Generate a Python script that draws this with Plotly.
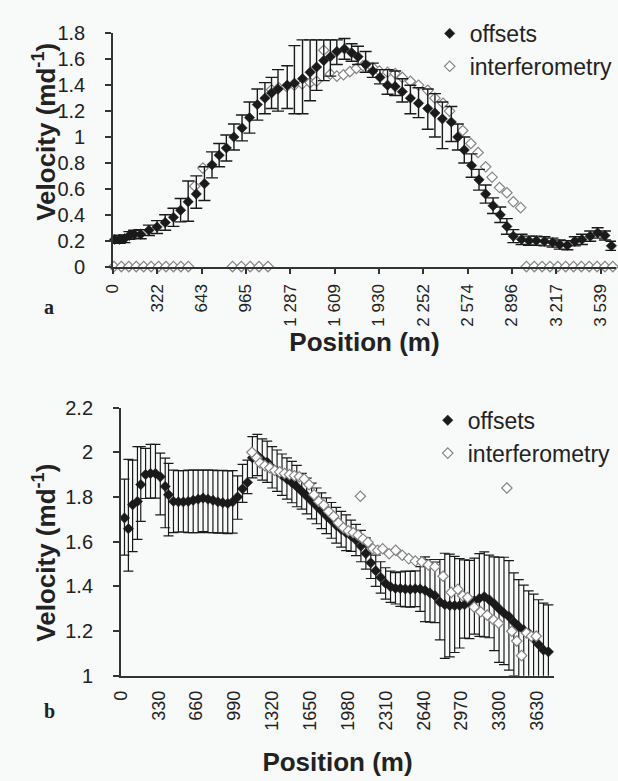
import plotly.graph_objects as go

# ---------------- Panel a data ----------------
a_off_pos = [12, 48, 83, 119, 154, 201, 261, 320, 379, 439, 491, 546, 605, 664, 719, 771, 823, 878, 937, 991,
             1048, 1103, 1151, 1198, 1265, 1317, 1376, 1431, 1478, 1530, 1578, 1625, 1680, 1732, 1779, 1834, 1886,
             1938, 1993, 2048, 2100, 2159, 2218, 2285, 2337, 2391, 2456, 2503, 2550, 2603, 2657, 2705, 2759, 2811,
             2859, 2906, 2966, 3020, 3073, 3132, 3191, 3243, 3298, 3352, 3404, 3464, 3518, 3571, 3618]
a_off_val = [0.21, 0.21, 0.215, 0.24, 0.25, 0.25, 0.28, 0.305, 0.34, 0.38, 0.435, 0.50, 0.56, 0.64, 0.785, 0.86,
             0.915, 1.0, 1.07, 1.15, 1.25, 1.30, 1.34, 1.37, 1.40, 1.415, 1.45, 1.50, 1.54, 1.59, 1.62, 1.66, 1.68,
             1.65, 1.62, 1.56, 1.51, 1.46, 1.40, 1.39, 1.35, 1.30, 1.26, 1.22, 1.185, 1.14, 1.115, 1.0, 0.90, 0.78,
             0.67, 0.56, 0.47, 0.40, 0.31, 0.235, 0.21, 0.20, 0.20, 0.195, 0.185, 0.17, 0.165, 0.195, 0.21, 0.235,
             0.26, 0.24, 0.16]
a_off_err_plus = [0.03, 0.03, 0.03, 0.03, 0.03, 0.035, 0.04, 0.05, 0.06, 0.07, 0.09, 0.16, 0.14, 0.13, 0.10, 0.09,
                  0.10, 0.10, 0.10, 0.12, 0.12, 0.12, 0.12, 0.15, 0.15, 0.29, 0.30, 0.25, 0.21, 0.16, 0.13, 0.09,
                  0.08, 0.07, 0.08, 0.10, 0.06, 0.06, 0.12, 0.12, 0.10, 0.10, 0.12, 0.15, 0.15, 0.13, 0.12, 0.10,
                  0.10, 0.09, 0.08, 0.07, 0.06, 0.06, 0.06, 0.05, 0.04, 0.035, 0.035, 0.035, 0.035, 0.035, 0.035,
                  0.035, 0.04, 0.04, 0.04, 0.035, 0.035]
a_off_err_minus = [0.03, 0.03, 0.03, 0.03, 0.03, 0.035, 0.04, 0.05, 0.06, 0.07, 0.09, 0.15, 0.11, 0.13, 0.10, 0.09,
                   0.10, 0.10, 0.10, 0.12, 0.12, 0.12, 0.12, 0.17, 0.18, 0.235, 0.27, 0.22, 0.18, 0.155, 0.15, 0.10,
                   0.08, 0.065, 0.06, 0.06, 0.05, 0.05, 0.07, 0.07, 0.08, 0.12, 0.11, 0.16, 0.185, 0.23, 0.15, 0.10,
                   0.10, 0.09, 0.08, 0.07, 0.06, 0.06, 0.06, 0.05, 0.04, 0.035, 0.035, 0.035, 0.035, 0.035, 0.035,
                   0.035, 0.04, 0.04, 0.04, 0.035, 0.035]

a_int_pos = [7, 61, 115, 169, 223, 277, 331, 385, 439, 493, 547, 593, 653, 868, 932, 996, 1060, 1125,
             1151, 1203, 1260, 1317, 1374, 1431, 1478, 1530, 1578, 1625, 1673, 1720, 1767, 1815, 1851, 1886,
             1934, 1993, 2048, 2100, 2159, 2218, 2285, 2337, 2396, 2443, 2539, 2598, 2650, 2705, 2752, 2806,
             2859, 2906, 2959, 3001, 3058, 3115, 3172, 3229, 3286, 3343, 3400, 3457, 3514, 3571, 3628]
a_int_val = [0, 0, 0, 0, 0, 0, 0, 0, 0, 0, 0, 0.62, 0.76, 0, 0, 0, 0, 0,
             1.365, 1.38, 1.39, 1.40, 1.41, 1.42, 1.43, 1.67, 1.485, 1.47, 1.48, 1.505, 1.53, 1.55, 1.545, 1.535,
             1.51, 1.50, 1.49, 1.46, 1.43, 1.40, 1.36, 1.30, 1.26, 1.20, 1.05, 0.95, 0.88, 0.77, 0.69, 0.61,
             0.57, 0.50, 0.455, 0, 0, 0, 0, 0, 0, 0, 0, 0, 0, 0, 0]

a_tick_vals = [0, 322, 643, 965, 1287, 1609, 1930, 2252, 2574, 2896, 3217, 3539]
a_tick_text = ["0", "322", "643", "965", "1 287", "1 609", "1 930", "2 252", "2 574", "2 896", "3 217", "3 539"]

# ---------------- Panel b data ----------------
b_off_pos = [32, 66, 103, 145, 174, 216, 259, 302, 344, 387, 416, 459,
             502, 545, 588, 631, 674, 717, 760, 803, 846, 889, 932, 975, 1018, 1061, 1104,
             1147, 1190, 1233, 1276, 1319, 1362, 1405, 1448, 1491, 1534,
             1577, 1620, 1663, 1706, 1749, 1792, 1835, 1878, 1921, 1964,
             2007, 2050, 2093, 2136, 2179, 2222, 2265, 2308, 2351, 2394,
             2437, 2480, 2523, 2566, 2609, 2652, 2695, 2738, 2781, 2824,
             2867, 2910, 2953, 2996, 3039, 3082, 3125, 3168, 3211, 3254,
             3297, 3340, 3383, 3426, 3469, 3512, 3555, 3598, 3641, 3684, 3727]
b_off_val = [1.706, 1.658, 1.765, 1.78, 1.855, 1.90, 1.905, 1.905, 1.89, 1.847, 1.81, 1.78,
             1.778, 1.778, 1.78, 1.785, 1.79, 1.795, 1.79, 1.785, 1.778, 1.774, 1.771, 1.778, 1.80, 1.836, 1.865,
             1.975, 1.985, 1.965, 1.955, 1.93, 1.915, 1.897, 1.88, 1.864, 1.846,
             1.825, 1.804, 1.782, 1.76, 1.738, 1.716, 1.695, 1.673, 1.655, 1.64,
             1.626, 1.607, 1.58, 1.547, 1.505, 1.47, 1.44, 1.413, 1.398, 1.391,
             1.39, 1.388, 1.387, 1.389, 1.388, 1.382, 1.37, 1.358, 1.33, 1.318,
             1.314, 1.314, 1.314, 1.318, 1.326, 1.336, 1.346, 1.354, 1.34, 1.322,
             1.30, 1.28, 1.265, 1.24, 1.22, 1.205, 1.19, 1.165, 1.14, 1.115, 1.107]
b_off_err_plus = [0.174, 0.31, 0.20, 0.245, 0.17, 0.117, 0.13, 0.13, 0.106, 0.127, 0.14, 0.14,
                  0.14, 0.14, 0.14, 0.135, 0.13, 0.125, 0.13, 0.135, 0.14, 0.145, 0.145, 0.14, 0.094, 0.11, 0.10,
                  0.095, 0.095, 0.095, 0.095, 0.095, 0.095, 0.095, 0.095, 0.095, 0.095,
                  0.08, 0.08, 0.08, 0.08, 0.08, 0.08, 0.08, 0.08, 0.08, 0.08,
                  0.07, 0.07, 0.07, 0.07, 0.07, 0.07, 0.07, 0.07, 0.07, 0.07,
                  0.075, 0.08, 0.08, 0.08, 0.10, 0.15, 0.15, 0.15, 0.19, 0.23,
                  0.23, 0.22, 0.21, 0.20, 0.19, 0.19, 0.20, 0.20, 0.20, 0.21,
                  0.23, 0.25, 0.25, 0.22, 0.21, 0.20, 0.19, 0.20, 0.20, 0.21, 0.21]
b_off_err_minus = [0.166, 0.19, 0.21, 0.17, 0.164, 0.107, 0.11, 0.11, 0.17, 0.185, 0.184, 0.14,
                   0.135, 0.135, 0.14, 0.145, 0.15, 0.15, 0.15, 0.145, 0.14, 0.135, 0.135, 0.14, 0.10, 0.06, 0.05,
                   0.09, 0.09, 0.09, 0.09, 0.09, 0.09, 0.09, 0.09, 0.09, 0.09,
                   0.08, 0.08, 0.08, 0.08, 0.08, 0.08, 0.08, 0.08, 0.08, 0.08,
                   0.07, 0.07, 0.07, 0.07, 0.07, 0.07, 0.07, 0.07, 0.07, 0.07,
                   0.08, 0.08, 0.08, 0.08, 0.10, 0.14, 0.13, 0.12, 0.17, 0.24,
                   0.23, 0.21, 0.19, 0.15, 0.16, 0.15, 0.17, 0.18, 0.17, 0.21,
                   0.24, 0.23, 0.24, 0.24, 0.23, 0.22, 0.22, 0.22, 0.22, 0.22, 0.22]

b_int_pos = [1143, 1185, 1214, 1256, 1299, 1342, 1385, 1427, 1470, 1513, 1556, 1598, 1641, 1684, 1726, 1769,
             1812, 1855, 1897, 1940, 1983, 2026, 2068, 2088, 2111, 2154, 2197, 2239, 2282, 2339, 2396, 2453,
             2510, 2567, 2624, 2681, 2738, 2809, 2880, 2938, 2980, 3023, 3080, 3137, 3194, 3250, 3293, 3365,
             3408, 3451, 3493, 3536, 3579, 3621]
b_int_val = [2.0, 1.975, 1.952, 1.94, 1.93, 1.918, 1.912, 1.905, 1.90, 1.895, 1.89, 1.88, 1.855, 1.81, 1.78, 1.764,
             1.735, 1.713, 1.684, 1.662, 1.648, 1.64, 1.629, 1.803, 1.612, 1.597, 1.568, 1.561, 1.568, 1.546, 1.561,
             1.539, 1.524, 1.513, 1.51, 1.496, 1.488, 1.445, 1.373, 1.387, 1.358, 1.35, 1.307, 1.286, 1.271, 1.249,
             1.235, 1.84, 1.199, 1.155, 1.09, 1.191, 1.177, 1.177]

b_tick_vals = [0, 330, 660, 990, 1320, 1650, 1980, 2310, 2640, 2970, 3300, 3630]
b_tick_text = [str(v) for v in b_tick_vals]
b_mark_vals = [0, 247.5, 495, 742.5, 990, 1237.5, 1485, 1732.5, 1980, 2227.5, 2475, 2722.5, 2970, 3217.5,
               3465, 3712.5]

# ---------------- styling ----------------
W, H = 618, 781
BG = "#f8f9f9"
AX = "#333333"
FONT = "Liberation Sans, Arial, sans-serif"
OFF_COLOR = "#1a1a1a"
INT_LINE = "#858585"


def px_x(p):
    return p / W


def px_y(p):
    return 1 - p / H


fig = go.Figure()

# Panel a
fig.add_trace(go.Scatter(
    x=a_int_pos, y=a_int_val, mode="markers", name="interferometry", legend="legend", legendrank=2,
    marker=dict(symbol="diamond", size=8, color="#ffffff", line=dict(color=INT_LINE, width=1.2)),
    cliponaxis=False, xaxis="x", yaxis="y"))
fig.add_trace(go.Scatter(
    x=a_off_pos, y=a_off_val, mode="markers", name="offsets", legend="legend", legendrank=1,
    marker=dict(symbol="diamond", size=8, color=OFF_COLOR, line=dict(color=OFF_COLOR, width=0.5)),
    error_y=dict(type="data", symmetric=False, array=a_off_err_plus, arrayminus=a_off_err_minus,
                 color=OFF_COLOR, thickness=1.4, width=6),
    cliponaxis=False, xaxis="x", yaxis="y"))

# Panel b
fig.add_trace(go.Scatter(
    x=b_off_pos, y=b_off_val, mode="markers", name="offsets", legend="legend2", legendrank=1,
    marker=dict(symbol="diamond", size=8, color=OFF_COLOR, line=dict(color=OFF_COLOR, width=0.5)),
    error_y=dict(type="data", symmetric=False, array=b_off_err_plus, arrayminus=b_off_err_minus,
                 color=OFF_COLOR, thickness=1.2, width=5),
    xaxis="x2", yaxis="y2"))
fig.add_trace(go.Scatter(
    x=b_int_pos, y=b_int_val, mode="markers", name="interferometry", legend="legend2", legendrank=2,
    marker=dict(symbol="diamond", size=8, color="#ffffff", line=dict(color=INT_LINE, width=1.2)),
    xaxis="x2", yaxis="y2"))

a_xtickfont = dict(family=FONT, size=17, color="#222")
b_xtickfont = dict(family=FONT, size=18, color="#222")
ytickfont = dict(family=FONT, size=20, color="#222")
titlefont = dict(family=FONT, size=26, color="#222", weight="bold")
legfont = dict(family=FONT, size=23, color="#222")
letterfont = dict(family="Liberation Serif, Times New Roman, serif", size=20, color="#222", weight="bold")

a_xdom = [px_x(105), 1.0]
a_ydom = [px_y(263), px_y(23)]
a_xrange = [0, (618 - 105) / 0.1405]
b_xdom = [px_x(113), px_x(555)]
b_ydom = [px_y(684), px_y(408)]
b_xrange = [0, (555 - 113) / 0.117]

common_line = dict(showline=True, linecolor=AX, linewidth=1.5, showgrid=False, zeroline=False)
hidden_overlay = dict(showticklabels=False, showline=False, showgrid=False, zeroline=False,
                      tickwidth=1.5, tickcolor=AX, ticklen=6)

fig.update_layout(
    width=W, height=H,
    margin=dict(l=0, r=0, t=0, b=0),
    paper_bgcolor=BG, plot_bgcolor=BG,
    font=dict(family=FONT, color="#222"),
    xaxis=dict(domain=a_xdom, range=a_xrange, anchor="y", tickmode="array", tickvals=a_tick_vals,
               ticktext=a_tick_text, ticks="outside", ticklen=6, tickwidth=1.5, tickcolor=AX, tickangle=-90,
               tickfont=a_xtickfont, ticklabelstandoff=3,
               title=dict(text="Position (m)", font=titlefont, standoff=0), **common_line),
    xaxis3=dict(overlaying="x", anchor="y", range=a_xrange, tickmode="array", tickvals=a_tick_vals,
                ticks="inside", **hidden_overlay),
    yaxis=dict(domain=a_ydom, range=[0, 1.8], anchor="x", tick0=0, dtick=0.2, ticks="outside", ticklen=6,
               tickwidth=1.5, tickcolor=AX, tickfont=ytickfont, ticklabelstandoff=16, **common_line),
    yaxis3=dict(overlaying="y", anchor="x", range=[0, 1.8], tick0=0, dtick=0.2, ticks="inside",
                **hidden_overlay),
    xaxis2=dict(domain=b_xdom, range=b_xrange, anchor="y2", tickmode="array", tickvals=b_tick_vals,
                ticktext=b_tick_text, ticks="", tickangle=-90, tickfont=b_xtickfont, ticklabelstandoff=6,
                title=dict(text="Position (m)", font=titlefont, standoff=23), **common_line),
    xaxis4=dict(overlaying="x2", anchor="y2", range=b_xrange, tickmode="array", tickvals=b_mark_vals,
                ticks="outside", **hidden_overlay),
    xaxis5=dict(overlaying="x2", anchor="y2", range=b_xrange, tickmode="array", tickvals=b_mark_vals,
                ticks="inside", **hidden_overlay),
    yaxis2=dict(domain=b_ydom, range=[1, 2.2], anchor="x2", tick0=1, dtick=0.2, ticks="outside", ticklen=6,
                tickwidth=1.5, tickcolor=AX, tickfont=ytickfont, ticklabelstandoff=16, **common_line),
    yaxis4=dict(overlaying="y2", anchor="x2", range=[1, 2.2], tick0=1, dtick=0.2, ticks="inside",
                **hidden_overlay),
    legend=dict(x=px_x(428), y=px_y(1), xanchor="left", yanchor="top", bgcolor="rgba(0,0,0,0)",
                font=legfont, tracegroupgap=9, traceorder="normal"),
    legend2=dict(x=px_x(426), y=px_y(399), xanchor="left", yanchor="top", bgcolor="rgba(0,0,0,0)",
                 font=legfont, tracegroupgap=12, traceorder="normal"),
    annotations=[
        dict(text="Velocity (md<sup>-1</sup>)", textangle=-90, x=px_x(35), y=px_y(124), xref="paper",
             yref="paper", xanchor="center", yanchor="middle", showarrow=False, font=titlefont),
        dict(text="Velocity (md<sup>-1</sup>)", textangle=-90, x=px_x(35), y=px_y(557), xref="paper",
             yref="paper", xanchor="center", yanchor="middle", showarrow=False, font=titlefont),
        dict(text="a", x=px_x(40), y=px_y(305), xref="paper", yref="paper", xanchor="center",
             yanchor="middle", showarrow=False, font=letterfont),
        dict(text="b", x=px_x(40), y=px_y(720), xref="paper", yref="paper", xanchor="center",
             yanchor="middle", showarrow=False, font=letterfont),
    ],
)

fig.write_html("out.html")
